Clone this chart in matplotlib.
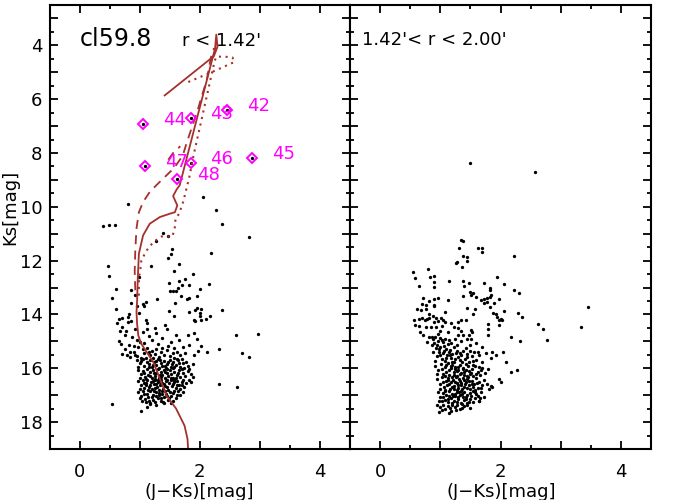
import numpy as np
import matplotlib
matplotlib.use("Agg")
import matplotlib.pyplot as plt
from matplotlib.ticker import MultipleLocator, FuncFormatter

ISO_COLOR = "#a5302c"
STAR_COLOR = "#ff00ff"

# ---------------------------------------------------------------------------
# isochrones (J-Ks, Ks)
# ---------------------------------------------------------------------------
iso_solid_jk = [1.81, 1.80, 1.75, 1.61, 1.45, 1.34, 1.23, 1.12, 1.03, 0.98, 0.96, 0.95, 0.96, 0.97,
                0.99, 1.06, 1.17, 1.34, 1.50, 1.59, 1.63, 1.56, 1.62, 1.67, 2.22, 2.26, 2.28, 2.30,
                2.24, 1.42]
iso_solid_ks = [19.0, 18.62, 18.13, 17.5, 17.01, 16.39, 15.77, 15.4, 15.09, 14.78, 14.35, 13.91, 13.5,
                12.74, 11.74, 11.06, 10.63, 10.38, 10.26, 10.2, 9.95, 9.6, 9.35, 9.2, 4.45, 4.1, 3.6,
                4.05, 4.4, 5.86]

iso_dash_jk = [0.93, 0.92, 0.93, 0.95, 0.99, 1.06, 1.17, 1.28, 1.45, 1.58, 1.72, 1.79, 1.88, 1.97,
               2.05, 2.12, 2.19, 2.24]
iso_dash_ks = [13.1, 12.4, 11.6, 10.8, 10.2, 9.82, 9.45, 9.2, 8.83, 8.55, 8.1, 7.6, 7.0, 6.4,
               5.8, 5.3, 4.45, 4.1]
iso_dash2_jk = [1.48, 1.56, 1.68]
iso_dash2_ks = [8.25, 8.0, 7.75]

iso_dot_jk = [0.99, 0.99, 1.01, 1.03, 1.12, 1.23, 1.37, 1.55, 1.59, 1.60, 1.66, 1.73, 1.83, 1.90,
              1.98, 2.07, 2.16, 2.25, 2.28, 2.42, 2.55, 2.58, 2.20, 1.75]
iso_dot_ks = [13.3, 12.61, 12.42, 11.99, 11.62, 11.31, 11.1, 11.1, 10.75, 10.44, 10.26, 9.8, 8.9,
              8.1, 7.3, 6.4, 5.5, 4.6, 4.42, 4.42, 4.45, 4.62, 5.0, 5.42]

# ---------------------------------------------------------------------------
# labelled bright stars (inner field)
# ---------------------------------------------------------------------------
star_ids = ["42", "43", "44", "45", "46", "47", "48"]
star_jk = [2.46, 1.85, 1.06, 2.87, 1.85, 1.09, 1.62]
star_ks = [6.41, 6.69, 6.94, 8.17, 8.36, 8.48, 8.98]

# ---------------------------------------------------------------------------
# field stars, r < 1.42'
# ---------------------------------------------------------------------------
inner_sparse = [
    (0.80, 9.91), (2.05, 9.64), (2.28, 10.13), (0.39, 10.71), (0.49, 10.68), (0.59, 10.68),
    (2.37, 10.63), (2.83, 11.12), (1.39, 10.97), (1.47, 11.07), (1.27, 11.27), (1.54, 11.56),
    (1.52, 11.77), (1.47, 11.90), (2.19, 11.72), (1.65, 12.12), (0.48, 12.20), (1.19, 12.20),
    (1.57, 12.39), (0.49, 12.56), (0.99, 12.61), (1.89, 12.50), (1.75, 12.67), (1.66, 12.77),
    (1.49, 12.83), (1.71, 12.90), (1.83, 12.90), (2.15, 12.86), (2.01, 13.04), (1.64, 13.00),
    (1.51, 13.13), (1.56, 13.13), (1.61, 13.11), (0.86, 13.10), (0.61, 13.07), (0.92, 13.29),
    (1.69, 13.33), (1.83, 13.38), (1.79, 13.42), (1.95, 13.33), (0.54, 13.40), (1.29, 13.43),
    (0.86, 13.57), (1.06, 13.60), (1.10, 13.55), (1.07, 13.69), (1.59, 13.58), (0.95, 13.67),
    (0.60, 13.79), (1.49, 13.86), (1.83, 13.90), (1.92, 13.85), (1.95, 13.76), (2.02, 13.79),
    (2.00, 13.93), (2.37, 13.83), (0.82, 13.97), (0.99, 13.95), (1.57, 14.05), (2.00, 14.07),
    (2.18, 14.06), (2.11, 14.16), (0.71, 14.13), (1.90, 14.22), (1.93, 14.25), (0.63, 14.30),
    (0.80, 14.28), (1.10, 14.22), (1.12, 14.32), (2.03, 14.20), (2.98, 14.73), (2.61, 14.75),
    (2.70, 15.45), (2.83, 15.57), (2.32, 15.28), (2.32, 16.60), (2.62, 16.70), (0.54, 17.32),
    (0.65, 14.16), (0.70, 14.47), (0.80, 14.10), (0.67, 14.60), (0.75, 14.78), (0.66, 15.00),
    (0.69, 15.09), (1.00, 15.03), (0.70, 15.46), (0.79, 15.52), (0.84, 15.58), (0.92, 15.52),
    (1.12, 14.53), (1.25, 14.49), (1.42, 14.41), (1.45, 14.53), (1.61, 14.75), (1.81, 14.78),
    (1.90, 14.68), (1.96, 14.90), (1.83, 15.15), (2.03, 15.17), (1.97, 15.34), (2.13, 15.40),
    (1.91, 15.52), (1.70, 15.65), (1.89, 15.83), (1.82, 16.02), (1.89, 16.33), (1.86, 16.51),
    (1.70, 16.64), (1.03, 17.57), (1.12, 17.44), (1.28, 17.38), (1.17, 17.32), (1.39, 17.26),
    (0.85, 14.25), (0.92, 14.55), (0.78, 14.62), (0.88, 14.85), (0.95, 14.95), (0.82, 15.12),
    (0.90, 15.18), (1.05, 14.65), (1.15, 14.80), (1.20, 14.95), (1.30, 15.10), (1.08, 15.05),
    (1.38, 14.88), (1.52, 15.02), (1.65, 14.95), (1.72, 15.20), (1.58, 15.25), (1.28, 14.68),
    (0.75, 15.30), (0.84, 15.38),
]
inner_core = [
    (0.98, 15.22), (1.05, 15.30), (1.12, 15.25), (1.20, 15.35), (1.28, 15.28), (1.35, 15.40),
    (1.45, 15.33), (1.55, 15.45), (1.62, 15.38), (1.08, 15.45), (1.18, 15.52), (1.25, 15.48),
    (1.32, 15.58), (1.40, 15.50), (1.50, 15.56), (1.58, 15.60), (0.95, 15.55), (1.02, 15.60),
    (1.68, 15.50), (1.75, 15.42), (1.15, 15.38), (1.38, 15.25), (1.48, 15.18), (0.90, 15.40),
    (1.22, 15.60),
    (0.95, 15.70), (1.00, 15.82), (1.05, 15.66), (1.08, 15.92), (1.12, 15.75), (1.15, 15.85),
    (1.18, 15.68), (1.20, 15.95), (1.24, 15.78), (1.27, 15.88), (1.30, 15.65), (1.33, 15.98),
    (1.36, 15.80), (1.40, 15.72), (1.42, 15.90), (1.46, 15.84), (1.50, 15.68), (1.52, 15.96),
    (1.56, 15.78), (1.60, 15.88), (1.64, 15.70), (1.68, 15.94), (1.72, 15.82), (1.78, 15.75),
    (0.98, 15.95), (1.10, 15.62), (1.22, 15.86), (1.34, 15.68), (1.44, 15.98), (1.54, 15.85),
    (1.62, 15.64), (1.74, 15.98), (1.02, 15.74), (1.16, 15.96), (1.28, 15.72), (1.38, 15.92),
    (1.48, 15.76), (1.58, 15.96), (1.66, 15.80), (1.80, 15.90),
    (0.98, 16.05), (1.03, 16.20), (1.06, 16.10), (1.09, 16.32), (1.12, 16.02), (1.14, 16.25),
    (1.17, 16.15), (1.20, 16.38), (1.22, 16.08), (1.25, 16.28), (1.28, 16.18), (1.30, 16.02),
    (1.32, 16.35), (1.35, 16.12), (1.38, 16.26), (1.40, 16.05), (1.43, 16.38), (1.45, 16.18),
    (1.48, 16.30), (1.50, 16.08), (1.53, 16.22), (1.56, 16.36), (1.58, 16.12), (1.62, 16.26),
    (1.65, 16.05), (1.68, 16.32), (1.72, 16.18), (1.76, 16.28), (1.80, 16.10), (1.85, 16.22),
    (1.00, 16.36), (1.08, 16.16), (1.18, 16.28), (1.26, 16.40), (1.36, 16.34), (1.46, 16.02),
    (1.55, 16.00), (1.60, 16.38), (1.70, 16.02), (1.24, 16.18), (1.34, 16.24), (1.42, 16.14),
    (1.52, 16.38), (1.64, 16.16), (1.11, 16.40),
    (0.97, 16.48), (1.02, 16.62), (1.05, 16.44), (1.08, 16.72), (1.11, 16.55), (1.13, 16.42),
    (1.16, 16.68), (1.19, 16.50), (1.21, 16.78), (1.24, 16.60), (1.26, 16.45), (1.29, 16.70),
    (1.31, 16.52), (1.34, 16.64), (1.36, 16.44), (1.39, 16.76), (1.41, 16.58), (1.44, 16.48),
    (1.46, 16.70), (1.49, 16.56), (1.52, 16.44), (1.54, 16.66), (1.57, 16.52), (1.60, 16.74),
    (1.63, 16.46), (1.66, 16.62), (1.70, 16.50), (1.74, 16.70), (1.78, 16.56), (1.83, 16.45),
    (1.00, 16.76), (1.07, 16.56), (1.14, 16.80), (1.22, 16.48), (1.28, 16.58), (1.33, 16.80),
    (1.38, 16.54), (1.43, 16.66), (1.48, 16.80), (1.55, 16.58), (1.62, 16.62), (1.68, 16.78),
    (1.18, 16.62), (1.25, 16.72), (1.35, 16.56), (1.45, 16.42), (1.58, 16.42), (1.72, 16.42),
    (1.10, 16.64), (1.30, 16.42),
    (0.98, 16.88), (1.03, 17.02), (1.06, 16.84), (1.09, 17.15), (1.12, 16.95), (1.15, 17.22),
    (1.18, 16.86), (1.20, 17.08), (1.23, 16.98), (1.25, 17.25), (1.28, 16.90), (1.30, 17.12),
    (1.33, 17.00), (1.36, 17.20), (1.38, 16.85), (1.41, 17.05), (1.44, 16.94), (1.47, 17.18),
    (1.50, 16.88), (1.53, 17.02), (1.56, 16.92), (1.60, 17.10), (1.64, 16.85), (1.68, 17.00),
    (1.72, 16.90), (1.08, 16.94), (1.14, 17.06), (1.22, 17.18), (1.32, 16.92), (1.40, 17.28),
    (1.46, 17.02), (1.55, 17.22), (1.62, 16.98), (1.04, 17.20), (1.17, 17.30), (1.27, 17.04),
    (1.35, 17.10), (1.43, 16.84), (1.52, 17.30), (1.00, 17.10), (1.11, 17.26), (1.24, 16.86),
    (1.37, 16.96), (1.49, 17.12), (1.58, 16.84),
]

# ---------------------------------------------------------------------------
# field stars, 1.42' < r < 2.00'
# ---------------------------------------------------------------------------
outer_sparse = [
    (1.50, 8.37), (2.57, 8.70), (1.35, 11.25), (1.37, 11.27), (1.31, 11.52), (1.63, 11.53),
    (1.70, 11.53), (1.69, 11.68), (2.22, 11.83), (1.37, 11.81), (1.44, 11.87), (1.45, 12.03),
    (1.26, 12.09), (1.28, 12.05), (1.36, 12.24), (0.54, 12.42), (0.58, 12.64), (0.79, 12.30),
    (0.83, 12.59), (0.89, 12.57), (1.95, 12.61), (1.15, 12.76), (0.89, 12.80), (0.90, 12.97),
    (1.38, 12.76), (1.47, 12.82), (1.72, 12.82), (2.05, 12.86), (0.64, 12.96), (1.39, 12.96),
    (1.82, 13.02), (1.83, 13.08), (2.23, 13.09), (2.31, 13.19), (1.49, 13.17), (1.54, 13.20),
    (1.51, 13.29), (1.37, 13.33), (1.60, 13.35), (1.68, 13.45), (1.73, 13.42), (1.77, 13.39),
    (1.82, 13.35), (1.85, 13.29), (1.98, 13.42), (0.71, 13.38), (0.81, 13.50), (0.90, 13.44),
    (0.97, 13.38), (1.12, 13.48), (1.72, 13.57), (1.78, 13.54), (1.90, 13.58), (0.90, 13.64),
    (0.89, 13.70), (0.70, 13.61), (0.76, 13.64), (1.45, 13.75), (1.57, 13.79), (1.55, 14.00),
    (1.83, 13.73), (0.62, 13.79), (0.68, 13.83), (0.76, 13.79), (1.08, 13.91), (1.87, 13.95),
    (1.93, 13.97), (1.94, 14.10), (2.06, 13.89), (2.29, 13.94), (2.35, 14.10), (3.46, 13.73),
    (0.82, 14.00), (0.88, 14.06), (0.81, 14.13), (0.78, 14.16), (0.75, 14.19), (0.56, 14.22),
    (0.64, 14.16), (0.70, 14.13), (0.93, 14.13), (1.01, 14.13), (0.90, 14.28), (0.97, 14.26),
    (1.04, 14.22), (1.08, 14.28), (1.18, 14.32), (1.29, 14.28), (1.35, 14.22), (1.43, 14.19),
    (1.98, 14.22), (2.01, 14.16), (2.03, 14.22), (1.80, 14.35), (1.97, 14.41), (2.62, 14.35),
    (2.70, 14.53), (3.34, 14.45), (0.58, 14.41), (0.65, 14.43), (0.76, 14.47), (0.84, 14.48),
    (0.93, 14.47), (1.03, 14.43), (1.23, 14.47), (1.29, 14.51), (1.35, 14.60), (1.51, 14.56),
    (1.53, 14.66), (1.80, 14.53), (0.66, 14.66), (0.71, 14.78), (0.87, 14.84), (0.96, 14.72),
    (0.99, 14.63), (1.12, 14.66), (1.29, 14.78), (1.37, 14.78), (1.48, 14.78), (1.51, 14.90),
    (1.80, 14.78), (2.18, 14.84), (2.33, 14.97), (2.78, 14.94), (2.28, 16.08), (2.17, 16.12),
    (2.09, 15.77), (2.04, 15.40), (1.86, 15.40), (1.93, 15.52), (1.81, 16.76), (1.86, 16.70),
    (1.98, 16.39), (2.01, 16.51), (1.65, 17.20),
]
outer_core = [
    (0.82, 14.85), (0.88, 14.92), (0.92, 14.82), (0.96, 14.98), (1.00, 14.88), (1.04, 15.02),
    (1.08, 14.92), (1.12, 15.10), (0.90, 15.05), (0.95, 15.15), (1.00, 15.22), (1.06, 15.18),
    (1.14, 14.96), (1.18, 15.05), (0.86, 15.12), (0.98, 15.30), (1.10, 15.28), (1.22, 15.20),
    (1.28, 15.12), (1.35, 15.00), (1.42, 15.25), (1.50, 15.15), (1.60, 15.05), (1.70, 15.20),
    (1.02, 14.95), (0.93, 15.25), (1.16, 15.32), (1.25, 14.90), (0.78, 15.02), (1.45, 14.92),
    (0.88, 15.40), (0.94, 15.55), (0.98, 15.38), (1.02, 15.66), (1.05, 15.45), (1.08, 15.72),
    (1.11, 15.52), (1.14, 15.38), (1.17, 15.62), (1.20, 15.48), (1.23, 15.75), (1.26, 15.42),
    (1.29, 15.58), (1.32, 15.70), (1.35, 15.50), (1.38, 15.36), (1.41, 15.64), (1.45, 15.46),
    (1.48, 15.76), (1.52, 15.55), (1.56, 15.40), (1.60, 15.68), (1.65, 15.52), (1.70, 15.78),
    (1.76, 15.45), (0.92, 15.72), (1.00, 15.50), (1.10, 15.62), (1.19, 15.78), (1.28, 15.34),
    (1.36, 15.78), (1.44, 15.58), (1.54, 15.72), (1.63, 15.38), (1.84, 15.62), (1.06, 15.34),
    (1.16, 15.50), (1.25, 15.65), (1.33, 15.44), (1.50, 15.34),
    (0.92, 15.90), (0.97, 16.08), (1.01, 15.84), (1.04, 16.20), (1.07, 15.96), (1.10, 16.12),
    (1.12, 15.82), (1.15, 16.25), (1.18, 16.00), (1.20, 15.88), (1.23, 16.15), (1.25, 15.94),
    (1.28, 16.28), (1.30, 16.05), (1.33, 15.86), (1.35, 16.18), (1.38, 15.98), (1.40, 16.26),
    (1.43, 16.08), (1.46, 15.90), (1.49, 16.20), (1.52, 16.02), (1.55, 16.28), (1.58, 15.92),
    (1.62, 16.12), (1.66, 16.24), (1.70, 15.98), (1.75, 16.16), (1.80, 16.04), (0.95, 16.22),
    (1.02, 16.02), (1.08, 16.28), (1.14, 16.06), (1.22, 16.24), (1.27, 16.10), (1.32, 16.22),
    (1.37, 16.04), (1.42, 15.84), (1.48, 16.10), (1.54, 15.86), (1.60, 16.22), (1.68, 16.06),
    (1.17, 15.92), (1.29, 15.96), (1.45, 16.28), (1.09, 15.88), (1.25, 16.04), (1.39, 16.14),
    (1.51, 16.16), (1.64, 15.96),
    (0.95, 16.40), (0.99, 16.58), (1.03, 16.34), (1.06, 16.70), (1.09, 16.48), (1.11, 16.62),
    (1.13, 16.36), (1.16, 16.76), (1.18, 16.52), (1.21, 16.42), (1.23, 16.66), (1.26, 16.34),
    (1.28, 16.56), (1.30, 16.74), (1.33, 16.46), (1.35, 16.62), (1.37, 16.38), (1.40, 16.70),
    (1.42, 16.52), (1.45, 16.40), (1.47, 16.64), (1.50, 16.78), (1.53, 16.48), (1.56, 16.60),
    (1.59, 16.36), (1.62, 16.72), (1.65, 16.50), (1.69, 16.62), (1.73, 16.42), (1.78, 16.58),
    (1.84, 16.66), (1.00, 16.76), (1.05, 16.52), (1.12, 16.44), (1.19, 16.68), (1.24, 16.50),
    (1.31, 16.40), (1.36, 16.78), (1.41, 16.60), (1.48, 16.48), (1.55, 16.70), (1.61, 16.56),
    (1.08, 16.80), (1.15, 16.58), (1.22, 16.76), (1.29, 16.64), (1.34, 16.54), (1.39, 16.44),
    (1.44, 16.72), (1.52, 16.58), (1.58, 16.80), (1.67, 16.74), (1.27, 16.80), (1.46, 16.32),
    (1.20, 16.32),
    (0.96, 16.88), (1.00, 17.05), (1.04, 16.92), (1.07, 17.18), (1.10, 16.98), (1.12, 17.25),
    (1.15, 16.86), (1.17, 17.10), (1.20, 16.96), (1.22, 17.22), (1.25, 17.04), (1.27, 16.88),
    (1.30, 17.16), (1.32, 16.98), (1.35, 17.28), (1.37, 17.06), (1.40, 16.90), (1.43, 17.14),
    (1.45, 16.98), (1.48, 17.24), (1.51, 17.02), (1.54, 16.86), (1.57, 17.12), (1.60, 16.96),
    (1.64, 17.20), (1.68, 16.90), (1.72, 17.06), (1.02, 17.22), (1.08, 16.84), (1.14, 17.04),
    (1.19, 17.30), (1.24, 16.94), (1.29, 17.08), (1.34, 16.84), (1.39, 17.18), (1.44, 17.30),
    (1.49, 16.92), (1.55, 17.26), (1.62, 17.04), (0.98, 17.20), (1.05, 17.06), (1.13, 17.14),
    (1.21, 17.02), (1.28, 17.26), (1.36, 16.94), (1.42, 17.06), (1.50, 17.14), (1.58, 16.90),
    (1.66, 17.12), (1.31, 16.90),
    (0.95, 17.38), (1.00, 17.45), (1.05, 17.35), (1.08, 17.52), (1.12, 17.40), (1.16, 17.48),
    (1.20, 17.36), (1.24, 17.44), (1.28, 17.38), (1.32, 17.50), (1.36, 17.34), (1.40, 17.42),
    (1.45, 17.36), (1.50, 17.46), (0.98, 17.63), (1.14, 17.65), (1.03, 17.55), (1.26, 17.55),
    (1.36, 17.48), (1.18, 17.58),
]


def style_axes(ax, show_ylabels):
    ax.set_xlim(-0.5, 4.5)
    ax.set_ylim(19.0, 2.5)
    ax.xaxis.set_major_locator(MultipleLocator(1))
    ax.xaxis.set_minor_locator(MultipleLocator(0.5))
    ax.yaxis.set_major_locator(MultipleLocator(1))
    ax.yaxis.set_minor_locator(MultipleLocator(0.5))
    even = FuncFormatter(lambda v, p: f"{v:.0f}" if abs(v % 2) < 1e-6 else "")
    ax.xaxis.set_major_formatter(even)
    ax.yaxis.set_major_formatter(even if show_ylabels else FuncFormatter(lambda v, p: ""))
    ax.tick_params(which="both", direction="in", top=True, right=True, width=1.3, labelsize=13)
    ax.tick_params(which="major", length=6)
    ax.tick_params(which="minor", length=3)
    ax.tick_params(axis="x", pad=10)
    ax.tick_params(axis="y", pad=5)
    for s in ax.spines.values():
        s.set_linewidth(1.5)


def field(ax, pts):
    xy = np.array(pts)
    ax.plot(xy[:, 0], xy[:, 1], "o", color="black", ms=2.4, mew=0)


fig = plt.figure(figsize=(7, 5), dpi=100)
ax1 = fig.add_axes([49.5 / 700, 51 / 500, 300 / 700, 444 / 500])
ax2 = fig.add_axes([350 / 700, 51 / 500, 301 / 700, 444 / 500])

# --- inner field ---
field(ax1, inner_sparse)
field(ax1, inner_core)
ax1.plot(star_jk, star_ks, "o", color="black", ms=2.4, mew=0)
ax1.plot(iso_solid_jk, iso_solid_ks, "-", color=ISO_COLOR, lw=1.3)
ax1.plot(iso_dash_jk, iso_dash_ks, "--", color=ISO_COLOR, lw=1.3, dashes=(5, 3.5))
ax1.plot(iso_dash2_jk, iso_dash2_ks, "--", color=ISO_COLOR, lw=1.3, dashes=(5, 3.5))
ax1.plot(iso_dot_jk, iso_dot_ks, ":", color=ISO_COLOR, lw=1.5, dashes=(1, 2.2))
ax1.plot(star_jk, star_ks, "D", ms=5, mfc="none", mec=STAR_COLOR, mew=1.4)
for sid, x, y in zip(star_ids, star_jk, star_ks):
    ax1.annotate(sid, xy=(x, y), xytext=(20, 4), textcoords="offset pixels",
                 ha="left", va="center", fontsize=13, color=STAR_COLOR)
ax1.text(0.10, 0.908, "cl59.8", transform=ax1.transAxes, fontsize=17, va="baseline")
ax1.text(0.442, 0.907, "r < 1.42'", transform=ax1.transAxes, fontsize=13, va="baseline")
style_axes(ax1, True)

# --- outer annulus ---
field(ax2, outer_sparse)
field(ax2, outer_core)
ax2.text(0.04, 0.91, "1.42'< r < 2.00'", transform=ax2.transAxes, fontsize=13, va="baseline")
style_axes(ax2, False)

fig.text(199 / 700, 0.016, "(J\u2212Ks)[mag]", ha="center", va="center", fontsize=13)
fig.text(501 / 700, 0.016, "(J\u2212Ks)[mag]", ha="center", va="center", fontsize=13)
fig.text(10 / 700, 0.586, "Ks[mag]", ha="center", va="center", rotation=90, fontsize=13)

fig.savefig("out.png", dpi=100)
